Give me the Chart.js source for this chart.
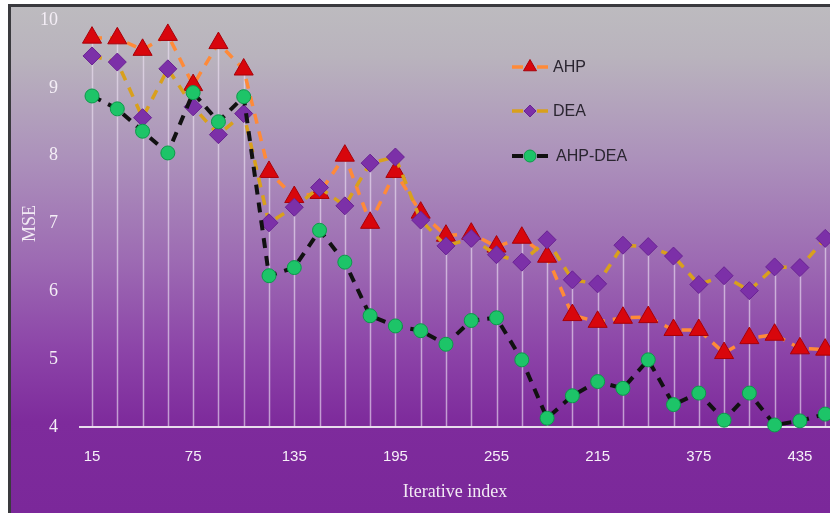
<!DOCTYPE html>
<html>
<head>
<meta charset="utf-8">
<script src="https://cdn.jsdelivr.net/npm/chart.js@4/dist/chart.umd.min.js"></script>
<style>
  html, body { margin: 0; padding: 0; background: #ffffff; }
  canvas { display: block; }
</style>
</head>
<body>
<canvas id="c" width="830" height="513"></canvas>
<script>
// ---- data ----
const categories = ["15","30","45","60","75","90","105","120","135","150","165","180","195","210","225",
                    "240","255","270","285","300","215","330","345","360","375","390","405","420","435","450"];
const tickIndexes = [0, 4, 8, 12, 16, 20, 24, 28];
const ahp    = [9.74, 9.73, 9.56, 9.78, 9.04, 9.66, 9.27, 7.76, 7.39, 7.45, 8.00, 7.01, 7.76, 7.16, 6.82,
                6.85, 6.66, 6.79, 6.51, 5.65, 5.55, 5.61, 5.62, 5.43, 5.43, 5.09, 5.31, 5.36, 5.16, 5.14];
const dea    = [9.47, 9.38, 8.56, 9.28, 8.72, 8.31, 8.62, 7.01, 7.24, 7.53, 7.26, 7.89, 7.98, 7.05, 6.67,
                6.78, 6.54, 6.43, 6.76, 6.17, 6.11, 6.68, 6.66, 6.52, 6.10, 6.23, 6.01, 6.36, 6.35, 6.78];
const ahpDea = [8.88, 8.69, 8.36, 8.04, 8.93, 8.50, 8.87, 6.23, 6.35, 6.90, 6.43, 5.64, 5.49, 5.42, 5.22,
                5.57, 5.61, 4.99, 4.13, 4.46, 4.67, 4.57, 4.99, 4.33, 4.50, 4.10, 4.50, 4.03, 4.09, 4.19];
const seriesNames = ["AHP", "DEA", "AHP-DEA"];
const yTicks = [4, 5, 6, 7, 8, 9, 10];

const toPoints = arr => arr.map((v, i) => ({ x: i, y: v }));

// background / frame
const bgPlugin = {
  id: 'bg',
  beforeDraw(chart) {
    const ctx = chart.ctx;
    const W = chart.width, H = chart.height;
    ctx.save();
    ctx.fillStyle = '#ffffff';
    ctx.fillRect(0, 0, W, H);
    const g = ctx.createLinearGradient(0, 6, 0, H);
    g.addColorStop(0.00, '#bdbbbf');
    g.addColorStop(0.10, '#b9b3bd');
    g.addColorStop(0.30, '#ac91bb');
    g.addColorStop(0.50, '#9d6bb3');
    g.addColorStop(0.68, '#8c44a8');
    g.addColorStop(0.82, '#7e2b9c');
    g.addColorStop(1.00, '#7b289a');
    ctx.fillStyle = g;
    ctx.fillRect(11, 7, W - 11, H - 7);
    ctx.fillStyle = '#3a3a3e';
    ctx.fillRect(8, 4, 3, H - 4);
    ctx.fillRect(8, 4, W - 8, 3);
    ctx.restore();
  }
};

// drop lines from the highest marker down to the axis
const dropLines = {
  id: 'dropLines',
  beforeDatasetsDraw(chart) {
    const ctx = chart.ctx;
    const xs = chart.scales.x, ys = chart.scales.y;
    const bottom = chart.chartArea.bottom;
    ctx.save();
    ctx.strokeStyle = 'rgba(238,226,244,0.62)';
    ctx.lineWidth = 1.5;
    for (let i = 0; i < categories.length; i++) {
      const top = Math.max(ahp[i], dea[i], ahpDea[i]);
      const x = Math.round(xs.getPixelForValue(i)) + 0.5;
      ctx.beginPath();
      ctx.moveTo(x, bottom);
      ctx.lineTo(x, ys.getPixelForValue(top));
      ctx.stroke();
    }
    ctx.restore();
  }
};

// legend drawn inside the plot
const legendPlugin = {
  id: 'customLegend',
  afterDatasetsDraw(chart) {
    const ctx = chart.ctx;
    const rows = [
      { y: 67,  textX: 553, size: 7.5 },
      { y: 111, textX: 553, size: 6 },
      { y: 156, textX: 556, size: 6 }
    ];
    chart.data.datasets.forEach((ds, k) => {
      const r = rows[k];
      ctx.save();
      ctx.strokeStyle = ds.borderColor;
      ctx.lineWidth = ds.borderWidth;
      ctx.beginPath();
      ctx.moveTo(512, r.y); ctx.lineTo(523, r.y);
      ctx.moveTo(537, r.y); ctx.lineTo(548, r.y);
      ctx.stroke();
      ctx.fillStyle = ds.pointBackgroundColor;
      ctx.strokeStyle = ds.pointBorderColor;
      ctx.lineWidth = 1;
      Chart.helpers.drawPoint(ctx, { pointStyle: ds.pointStyle, radius: r.size, rotation: 0, borderWidth: 1 }, 530, r.y);
      ctx.fillStyle = '#2a2530';
      ctx.font = '16px "Liberation Sans", Arial, sans-serif';
      ctx.textBaseline = 'middle';
      ctx.textAlign = 'left';
      ctx.fillText(ds.label, r.textX, r.y + 1);
      ctx.restore();
    });
  }
};

new Chart(document.getElementById('c'), {
  type: 'line',
  data: {
    datasets: [
      {
        label: seriesNames[0],
        data: toPoints(ahp),
        borderColor: '#ff8a38',
        borderWidth: 3.5,
        borderDash: [10, 8],
        pointStyle: 'triangle',
        pointRadius: 11,
        pointBackgroundColor: '#d8060c',
        pointBorderColor: '#a80008',
        pointBorderWidth: 1,
        tension: 0,
        clip: false,
        order: 3
      },
      {
        label: seriesNames[1],
        data: toPoints(dea),
        borderColor: '#d9a01c',
        borderWidth: 3.5,
        borderDash: [10, 8],
        pointStyle: 'rectRot',
        pointRadius: 9,
        pointBackgroundColor: '#7c30a8',
        pointBorderColor: '#6a2294',
        pointBorderWidth: 1,
        tension: 0,
        clip: false,
        order: 2
      },
      {
        label: seriesNames[2],
        data: toPoints(ahpDea),
        borderColor: '#111111',
        borderWidth: 4,
        borderDash: [10, 8],
        pointStyle: 'circle',
        pointRadius: 7,
        pointBackgroundColor: '#1dc468',
        pointBorderColor: '#0c9a4a',
        pointBorderWidth: 1,
        tension: 0,
        clip: false,
        order: 1
      }
    ]
  },
  options: {
    responsive: false,
    animation: false,
    devicePixelRatio: 1,
    layout: { autoPadding: false, padding: { left: 11, top: 20, right: 0, bottom: 0 } },
    plugins: { legend: { display: false }, tooltip: { enabled: false } },
    scales: {
      x: {
        type: 'linear',
        min: -0.475,
        max: 29.19,
        bounds: 'data',
        grid: { display: false },
        border: { display: true, color: '#e8dcec', width: 2 },
        afterBuildTicks(scale) { scale.ticks = tickIndexes.map(v => ({ value: v })); },
        afterFit(scale) { scale.height = 86; scale.paddingLeft = 0; scale.paddingRight = 0; },
        ticks: {
          autoSkip: false,
          maxRotation: 0,
          padding: 13,
          color: '#f6f0f8',
          font: { family: '"Liberation Sans", Arial, sans-serif', size: 15 },
          callback: v => categories[v]
        },
        title: {
          display: true,
          text: 'Iterative index',
          color: '#f2eaf4',
          font: { family: '"Liberation Serif", "Times New Roman", serif', size: 18 },
          padding: { top: 0, bottom: 10 }
        }
      },
      y: {
        min: 4,
        max: 10,
        grid: { display: false },
        border: { display: false },
        afterBuildTicks(scale) { scale.ticks = yTicks.map(v => ({ value: v })); },
        afterFit(scale) { scale.width = 69; scale.paddingTop = 0; scale.paddingBottom = 0; },
        ticks: {
          padding: 14,
          color: '#f4eef6',
          font: { family: '"Liberation Serif", "Times New Roman", serif', size: 18 }
        },
        title: {
          display: true,
          text: 'MSE',
          color: '#f2eaf4',
          font: { family: '"Liberation Serif", "Times New Roman", serif', size: 18 },
          padding: { top: 8, bottom: 0 }
        }
      }
    }
  },
  plugins: [bgPlugin, dropLines, legendPlugin]
});
</script>
</body>
</html>
